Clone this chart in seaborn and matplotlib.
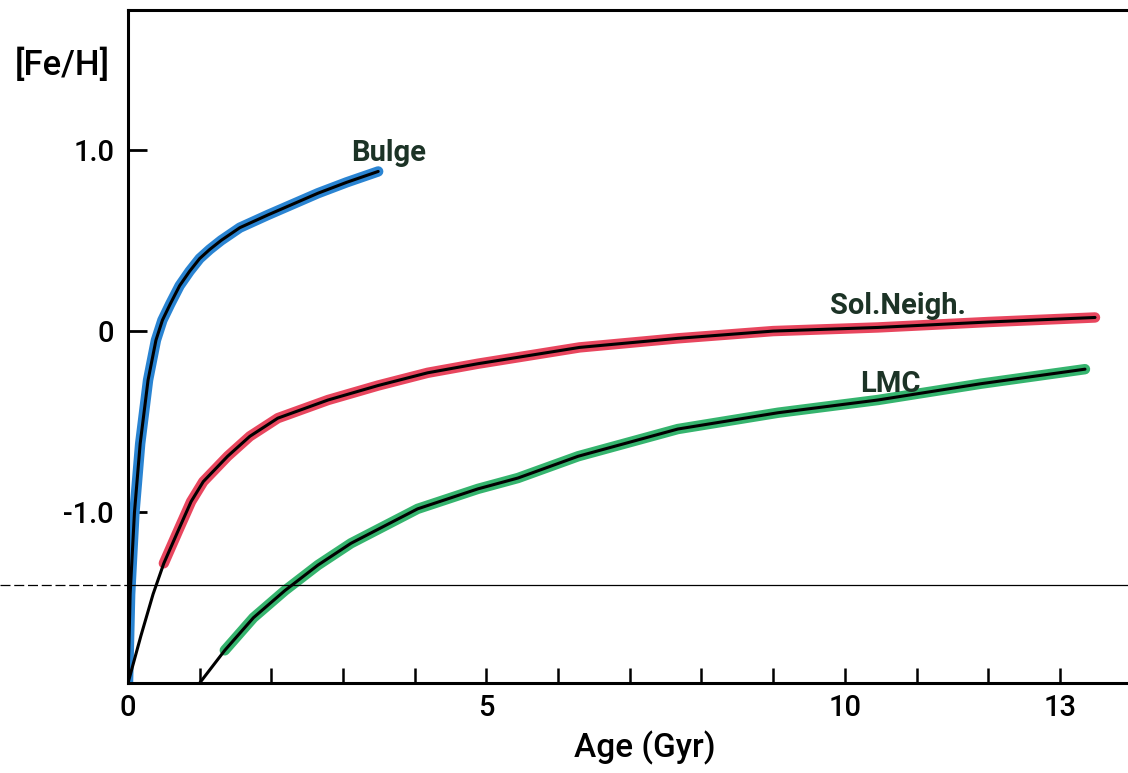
import numpy as np
import pandas as pd
import seaborn as sns
import matplotlib.pyplot as plt

# values: age (Gyr) vs [Fe/H]
bulge_age = [0.0, 0.03, 0.09, 0.17, 0.28, 0.39, 0.48, 0.59, 0.72, 0.86, 1.0, 1.14, 1.3, 1.56, 1.95, 2.3, 2.65, 3.05, 3.49]
bulge_feh = [-1.94, -1.45, -1.0, -0.62, -0.27, -0.05, 0.06, 0.15, 0.25, 0.33, 0.40, 0.45, 0.50, 0.57, 0.64, 0.70, 0.76, 0.82, 0.88]

solar_age = [0.0, 0.18, 0.35, 0.5, 0.7, 0.88, 1.05, 1.39, 1.7, 2.09, 2.79, 3.49, 4.18, 4.88, 6.3, 7.67, 9.0, 10.46, 12.0, 13.49]
solar_feh = [-1.94, -1.68, -1.45, -1.28, -1.10, -0.94, -0.83, -0.69, -0.58, -0.48, -0.38, -0.30, -0.23, -0.18, -0.09, -0.04, 0.0, 0.02, 0.05, 0.075]

lmc_age = [1.0, 1.35, 1.75, 2.19, 2.65, 3.11, 4.04, 4.88, 5.44, 6.28, 7.67, 9.07, 10.46, 11.9, 13.35]
lmc_feh = [-1.94, -1.76, -1.58, -1.43, -1.29, -1.17, -0.98, -0.87, -0.81, -0.69, -0.54, -0.45, -0.38, -0.29, -0.21]

# first point of each curve that got the coloured marker over the black line
colour_from = {"Bulge": 0, "Sol.Neigh.": 3, "LMC": 1}
colours = {"Bulge": "#2a84d2", "Sol.Neigh.": "#e8465e", "LMC": "#35b46e"}

rows = []
for name, ages, fehs in [("Bulge", bulge_age, bulge_feh),
                         ("Sol.Neigh.", solar_age, solar_feh),
                         ("LMC", lmc_age, lmc_feh)]:
    for i, (a, f) in enumerate(zip(ages, fehs)):
        rows.append({"curve": name, "age": a, "feh": f, "coloured": i >= colour_from[name]})
df = pd.DataFrame(rows)

sns.set_theme(style="white")
plt.rcParams['font.family'] = ['Roboto', 'DejaVu Sans']
plt.rcParams['text.color'] = 'black'

fig = plt.figure(figsize=(11.28, 7.73), dpi=100)
ax = fig.add_axes([128 / 1128, 1 - 683 / 773, 1000 / 1128, 673 / 773])

sns.lineplot(data=df[df.coloured], x="age", y="feh", hue="curve", palette=colours,
             lw=7.5, sort=False, legend=False, ax=ax, solid_capstyle="round")
for name in colours:
    sub = df[df.curve == name]
    sns.lineplot(data=sub, x="age", y="feh", color="black", lw=2.2, sort=False,
                 legend=False, ax=ax)

ax.set_xlim(0, 13.95)
ax.set_ylim(-1.94, 1.77)

# stray horizontal rule in the scan
ax.axhline(-1.40, xmin=-0.128, xmax=0, color="black", lw=0.9, ls=(0, (8, 3)), clip_on=False)
ax.axhline(-1.40, xmin=0, xmax=1, color="black", lw=0.9)

ax.set_xticks(np.arange(0, 14))
ax.set_xticklabels(["0", "", "", "", "", "5", "", "", "", "", "10", "", "", "13"])
ax.set_yticks([-1.0, 0, 1.0])
ax.set_yticklabels(["-1.0", "0", "1.0"])
ax.tick_params(axis="x", direction="in", length=11, width=1.8, pad=8, labelsize=21, colors="black")
ax.tick_params(axis="y", direction="in", length=14, width=2, pad=10, labelsize=21, colors="black")
ax.tick_params(bottom=True, left=True)
for t in ax.get_xticklabels() + ax.get_yticklabels():
    t.set_fontweight("medium")

for side in ["left", "bottom", "top"]:
    ax.spines[side].set_color("black")
    ax.spines[side].set_linewidth(2.2)
ax.spines["right"].set_visible(False)
ax.set_xlabel("")
ax.set_ylabel("")

lab = dict(fontsize=21, fontweight="bold", color="#1c3326", ha="center", va="center")
ax.text(3.63, 0.98, "Bulge", **lab)
ax.text(10.74, 0.14, "Sol.Neigh.", **lab)
ax.text(10.64, -0.29, "LMC", **lab)

fig.text(62 / 1128, 1 - 65 / 773, "[Fe/H]", fontsize=25, fontweight="medium", ha="center", va="center")
fig.text(645 / 1128, 1 - 748 / 773, "Age (Gyr)", fontsize=24, fontweight="medium", ha="center", va="center")

fig.savefig("out.png", dpi=100)
